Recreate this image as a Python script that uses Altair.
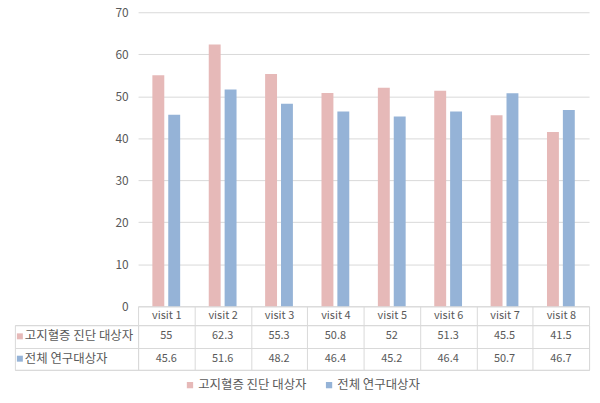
import altair as alt
import pandas as pd

visits = ["visit 1", "visit 2", "visit 3", "visit 4", "visit 5", "visit 6", "visit 7", "visit 8"]
series = ["고지혈증 진단 대상자", "전체 연구대상자"]
values_hyper = [55, 62.3, 55.3, 50.8, 52, 51.3, 45.5, 41.5]
values_all = [45.6, 51.6, 48.2, 46.4, 45.2, 46.4, 50.7, 46.7]
y_ticks = [0, 10, 20, 30, 40, 50, 60, 70]
colors = ["#E6B9B8", "#95B3D7"]

GRID = "#D9D9D9"
TXT = "#595959"
FONT = "Noto Sans CJK KR"

rows = []
for v, a, b in zip(visits, values_hyper, values_all):
    rows.append({"visit": v, "series": series[0], "value": a})
    rows.append({"visit": v, "series": series[1], "value": b})
df = pd.DataFrame(rows)
lab_df = pd.DataFrame({"series": series})

color_scale = alt.Scale(domain=series, range=colors)

bars = alt.Chart(df).mark_bar().encode(
    x=alt.X("visit:N", sort=visits,
            scale=alt.Scale(paddingInner=0, paddingOuter=0),
            axis=alt.Axis(title=None, labelAngle=0, tickBand="extent", tickSize=19,
                          tickColor=GRID, domainColor=GRID, labelPadding=-16,
                          labelFontSize=11, labelColor=TXT, labelFont=FONT)),
    xOffset=alt.XOffset("series:N", sort=series,
                        scale=alt.Scale(paddingInner=0.25, paddingOuter=0.9)),
    y=alt.Y("value:Q", scale=alt.Scale(domain=[0, 70]),
            axis=alt.Axis(title=None, values=y_ticks, ticks=False, domain=False,
                          gridColor=GRID, labelPadding=10, labelFontSize=12,
                          labelColor=TXT, labelFont=FONT)),
    color=alt.Color("series:N", scale=color_scale, sort=series,
                    legend=alt.Legend(title=None, orient="none", legendX=46, legendY=369,
                                      direction="horizontal", symbolType="square",
                                      symbolSize=40, symbolStrokeWidth=0,
                                      labelFontSize=12.5, labelColor=TXT, labelFont=FONT,
                                      columnPadding=16, labelOffset=2)),
).properties(width=454, height=296)

x_tab = alt.X("visit:N", sort=visits, scale=alt.Scale(paddingInner=0, paddingOuter=0),
              axis=alt.Axis(title=None, labels=False, ticks=False, domain=False, grid=True,
                            tickBand="extent", gridColor=GRID))
y_tab = alt.Y("series:N", sort=series, scale=alt.Scale(paddingInner=0, paddingOuter=0),
              axis=alt.Axis(title=None, labels=False, ticks=False, domain=False, grid=True,
                            tickBand="extent", gridColor=GRID))

table = alt.Chart(df).mark_text(fontSize=11, color=TXT, font=FONT).encode(
    x=x_tab,
    y=y_tab,
    text=alt.Text("value:Q", format=".1~f"),
).properties(width=454, height=45, view=alt.ViewBackground(stroke=GRID))

sq = alt.Chart(lab_df).mark_square(size=36, opacity=1, dy=-1).encode(
    x=alt.value(5),
    y=y_tab,
    color=alt.Color("series:N", scale=color_scale, legend=None),
)
lt = alt.Chart(lab_df).mark_text(align="left", fontSize=12.5, color=TXT, font=FONT).encode(
    x=alt.value(10),
    y=y_tab,
    text="series:N",
)
labels = alt.layer(sq, lt).properties(width=124, height=45, view=alt.ViewBackground(stroke=GRID))

spacer = alt.Chart(pd.DataFrame({"a": [0]})).mark_point(opacity=0).encode(
    x=alt.value(0), y=alt.value(0)
).properties(width=124, height=296)

chart = alt.concat(
    spacer, bars, labels, table, columns=2,
    spacing={"row": 19, "column": 0}, bounds="flush",
).resolve_scale(color="independent").properties(
    padding={"left": 12, "top": 5, "right": 10, "bottom": 5}
).configure(font=FONT).configure_view(stroke=None)

chart.save("out.html", embed_options={"renderer": "svg", "actions": False})
